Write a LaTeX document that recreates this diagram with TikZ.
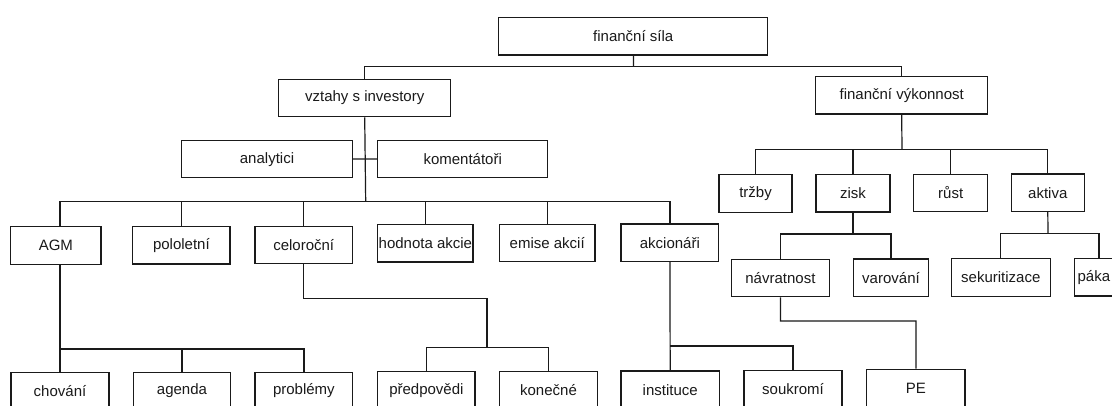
\documentclass[tikz,border=0pt]{standalone}
\usepackage{fontspec}
\setmainfont{Liberation Sans}
\definecolor{ink}{HTML}{1A1A1A}
\begin{document}
\begin{tikzpicture}[x=1pt,y=-1pt,
  box/.style={draw=ink, line width=1.25pt, fill=white, inner sep=0pt, text=ink,
    font=\fontsize{15}{18}\selectfont, minimum height=37.5pt},
  link/.style={draw=ink, line width=1.2pt}]
\path[use as bounding box, clip] (0,0) rectangle (1112,406);
\fill[white] (0,0) rectangle (1112,406);
% level 0/1
\node[box, minimum width=269pt]   (fs) at (633.2,36.2) {finanční síla};
\node[box, minimum width=171.7pt] (vi) at (364.7,97.9) {vztahy s investory};
\node[box, minimum width=172pt]   (fv) at (901.7,95.3) {finanční výkonnost};
% analysts
\node[box, minimum width=170.6pt, minimum height=37pt] (an) at (267,159.2) {analytici};
\node[box, minimum width=170pt,   minimum height=37pt] (ko) at (462.7,158.7) {komentátoři};
% left row
\node[box, minimum width=90.3pt] (ag) at (55.9,245.5) {AGM};
\node[box, minimum width=97.3pt] (po) at (181.4,245.3) {pololetní};
\node[box, minimum width=97.3pt] (ce) at (303.7,245) {celoroční};
\node[box, minimum width=95.3pt] (ho) at (425.4,243.3) {hodnota akcie};
\node[box, minimum width=95.7pt] (em) at (547.2,243) {emise akcií};
\node[box, minimum width=97.7pt] (ak) at (669.9,242.8) {akcionáři};
% right row
\node[box, minimum width=73pt] (tr) at (755.5,193.6) {tržby};
\node[box, minimum width=74pt] (zi) at (853,193.2) {zisk};
\node[box, minimum width=74pt] (ru) at (950.7,193) {růst};
\node[box, minimum width=73pt] (ak2) at (1047.8,192.8) {aktiva};
\node[box, minimum width=98.3pt] (na) at (780.4,278) {návratnost};
\node[box, minimum width=74.5pt] (va) at (891,277.8) {varování};
\node[box, minimum width=99pt]   (se) at (1000.8,277.5) {sekuritizace};
\node[box, minimum width=74pt, anchor=west, text width=70pt, align=left, inner xsep=3pt] (pk) at (1074,277.3) {páka};
% bottom row
\node[box, minimum width=98pt]   (ch) at (60,391) {chování};
\node[box, minimum width=97.4pt] (agd) at (182,391) {agenda};
\node[box, minimum width=97.7pt] (pr) at (303.9,391) {problémy};
\node[box, minimum width=97.3pt] (pd) at (426.4,390.5) {předpovědi};
\node[box, minimum width=98.4pt] (kn) at (548.5,390.5) {konečné};
\node[box, minimum width=98.3pt] (in) at (670.2,389.8) {instituce};
\node[box, minimum width=98pt]   (sk) at (793,389.3) {soukromí};
\node[box, minimum width=98.3pt] (pe) at (915.9,388) {PE};
% junction coordinates
\coordinate (j1) at (633.5,66.3);
\coordinate (b2) at (365.7,201.7);
\coordinate (b3) at (60,349);
\coordinate (b4) at (487,298.3);
\coordinate (b5) at (487,347.7);
\coordinate (b6) at (670,346);
\coordinate (b7) at (902,149.3);
\coordinate (b8) at (853,234);
\coordinate (b9) at (1048,233.5);
\coordinate (pkc) at (1099,233.5);
\coordinate (b10) at (916,321);
% connectors
\draw[link] (fs) -- (j1);
\draw[link] (vi.north) |- (j1) -| (fv.north);
\draw[link] (vi.south) -- (b2);
\draw[link] (an) -- (ko);
\draw[link] (ag.north -| b3) |- (b2) -| (ak.north);
\draw[link] (po.north) -- (po.north |- b2);
\draw[link] (ce.north) -- (ce.north |- b2);
\draw[link] (ho.north) -- (ho.north |- b2);
\draw[link] (em.north) -- (em.north |- b2);
\draw[link] (ag.south -| b3) -- (b3);
\draw[link] (ch.north) |- (b3) -| (pr.north);
\draw[link] (agd.north) -- (agd.north |- b3);
\draw[link] (ce.south) |- (b4) -- (b5);
\draw[link] (pd.north) |- (b5) -| (kn.north);
\draw[link] (ak.south) -- (in.north);
\draw[link] (b6) -| (sk.north);
\draw[link] (fv.south) -- (b7);
\draw[link] (tr.north) |- (b7) -| (ak2.north);
\draw[link] (zi.north) -- (zi.north |- b7);
\draw[link] (ru.north) -- (ru.north |- b7);
\draw[link] (zi.south) -- (b8);
\draw[link] (na.north) |- (b8) -| (va.north);
\draw[link] (ak2.south) -- (b9);
\draw[link] (se.north) |- (pkc) -- (pkc |- pk.north);
\draw[link] (na.south) |- (b10) -- (pe.north);
\end{tikzpicture}
\end{document}
